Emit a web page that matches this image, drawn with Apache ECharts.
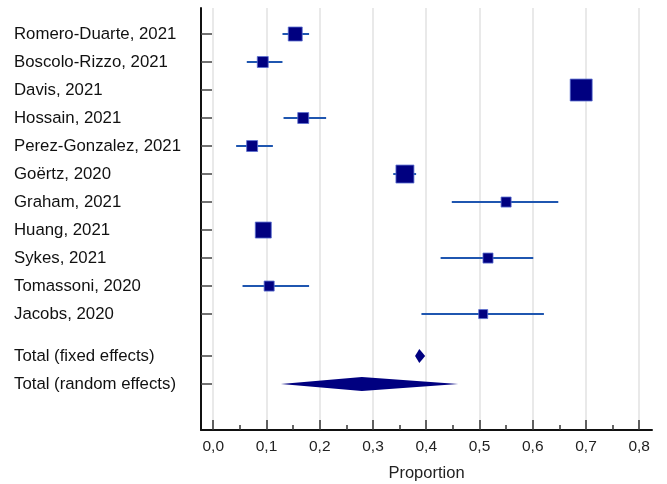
<!DOCTYPE html>
<html>
<head>
<meta charset="utf-8">
<script src="https://cdn.jsdelivr.net/npm/echarts@6/dist/echarts.min.js"></script>
<style>
  html, body { margin: 0; padding: 0; background: #fff; }
  #chart { width: 667px; height: 484px; }
</style>
</head>
<body>
<div id="chart"></div>
<script>
// studies, top to bottom
const studies = ['Romero-Duarte, 2021', 'Boscolo-Rizzo, 2021', 'Davis, 2021', 'Hossain, 2021',
    'Perez-Gonzalez, 2021', 'Goërtz, 2020', 'Graham, 2021', 'Huang, 2021', 'Sykes, 2021',
    'Tomassoni, 2020', 'Jacobs, 2020'];
const estimate = [0.154, 0.093, 0.691, 0.169, 0.073, 0.360, 0.550, 0.094, 0.516, 0.105, 0.507];
const lower    = [0.130, 0.063, 0.680, 0.132, 0.043, 0.338, 0.448, 0.085, 0.427, 0.055, 0.391];
const upper    = [0.180, 0.130, 0.702, 0.212, 0.112, 0.381, 0.648, 0.104, 0.601, 0.180, 0.621];
const weight   = [10.1, 6.2, 24.9, 6.2, 6.2, 16.7, 5.2, 13.2, 5.2, 5.2, 4.2]; // %

const pooled = ['Total (fixed effects)', 'Total (random effects)'];
const pooledEst   = [0.387, 0.279];
const pooledLower = [0.379, 0.127];
const pooledUpper = [0.398, 0.460];

const xTicks = [0, 0.1, 0.2, 0.3, 0.4, 0.5, 0.6, 0.7, 0.8];
const xMinorTicks = [0.05, 0.15, 0.25, 0.35, 0.45, 0.55, 0.65, 0.75];

const FONT = '"Liberation Sans", Arial, sans-serif';

// row positions: studies one per row, a gap, then the pooled rows
let rows = studies.map((s, i) => i);
let pooledRows = [11.5, 12.5];
let allRows = rows.concat(pooledRows);
let allLabels = studies.concat(pooled);

let studyData = studies.map((s, i) => [estimate[i], rows[i], lower[i], upper[i], weight[i]]);
let pooledData = pooled.map((s, i) => [pooledEst[i], pooledRows[i], pooledLower[i], pooledUpper[i]]);

function renderStudy(params, api) {
    let row = api.value(1);
    let c = api.coord([api.value(0), row]);
    let lo = api.coord([api.value(2), row]);
    let hi = api.coord([api.value(3), row]);
    let size = 4.4 * Math.sqrt(api.value(4));
    return {
        type: 'group',
        children: [{
            type: 'line',
            shape: {x1: lo[0], y1: lo[1], x2: hi[0], y2: hi[1]},
            style: {stroke: '#1f56b0', lineWidth: 2}
        }, {
            type: 'rect',
            shape: {x: c[0] - size / 2, y: c[1] - size / 2, width: size, height: size},
            style: {fill: '#000080', stroke: '#5b6fd0', lineWidth: 0.8}
        }]
    };
}

function renderDiamond(params, api) {
    let row = api.value(1);
    let c = api.coord([api.value(0), row]);
    let lo = api.coord([api.value(2), row]);
    let hi = api.coord([api.value(3), row]);
    let h = 7;
    return {
        type: 'polygon',
        shape: {points: [[lo[0], c[1]], [c[0], c[1] - h], [hi[0], c[1]], [c[0], c[1] + h]]},
        style: {fill: '#000080'}
    };
}

let options = {
    animation: false,
    grid: {
        left: 201,
        right: 15,
        top: 8,
        bottom: 54,
        outerBoundsMode: 'none'
    },
    xAxis: [{
        type: 'value',
        min: -0.023,
        max: 0.824,
        name: 'Proportion',
        nameLocation: 'middle',
        nameGap: 35,
        nameTextStyle: {fontFamily: FONT, fontSize: 16.5, color: '#222'},
        axisLine: {show: true, onZero: false, lineStyle: {color: '#111', width: 2}},
        axisTick: {
            show: true,
            inside: true,
            length: 10,
            customValues: xTicks,
            lineStyle: {color: '#333', width: 1.5}
        },
        axisLabel: {
            customValues: xTicks,
            fontFamily: FONT,
            fontSize: 15.5,
            color: '#222',
            margin: 9,
            formatter: v => v.toFixed(1).replace('.', ',')
        },
        splitLine: {show: true, lineStyle: {color: '#e2e2e2', width: 1.5}}
    }, {
        type: 'value',
        min: -0.023,
        max: 0.824,
        position: 'bottom',
        axisLine: {show: false, onZero: false},
        axisTick: {
            show: true,
            inside: true,
            length: 5,
            customValues: xMinorTicks,
            lineStyle: {color: '#333', width: 1.5}
        },
        axisLabel: {show: false},
        splitLine: {show: false}
    }],
    yAxis: {
        type: 'value',
        inverse: true,
        min: -0.929,
        max: 14.14,
        axisLine: {show: true, onZero: false, lineStyle: {color: '#111', width: 2}},
        axisTick: {
            show: true,
            inside: true,
            length: 11,
            customValues: allRows,
            lineStyle: {color: '#444', width: 1.5}
        },
        axisLabel: {
            customValues: allRows,
            align: 'left',
            margin: 187,
            fontFamily: FONT,
            fontSize: 16.8,
            color: '#111',
            formatter: v => allLabels[allRows.indexOf(v)]
        },
        splitLine: {show: false}
    },
    series: [{
        type: 'custom',
        renderItem: renderStudy,
        data: studyData,
        z: 3
    }, {
        type: 'custom',
        renderItem: renderDiamond,
        data: pooledData,
        z: 3
    }]
};

let chart = echarts.init(document.getElementById('chart'));
chart.setOption(options);
</script>
</body>
</html>
